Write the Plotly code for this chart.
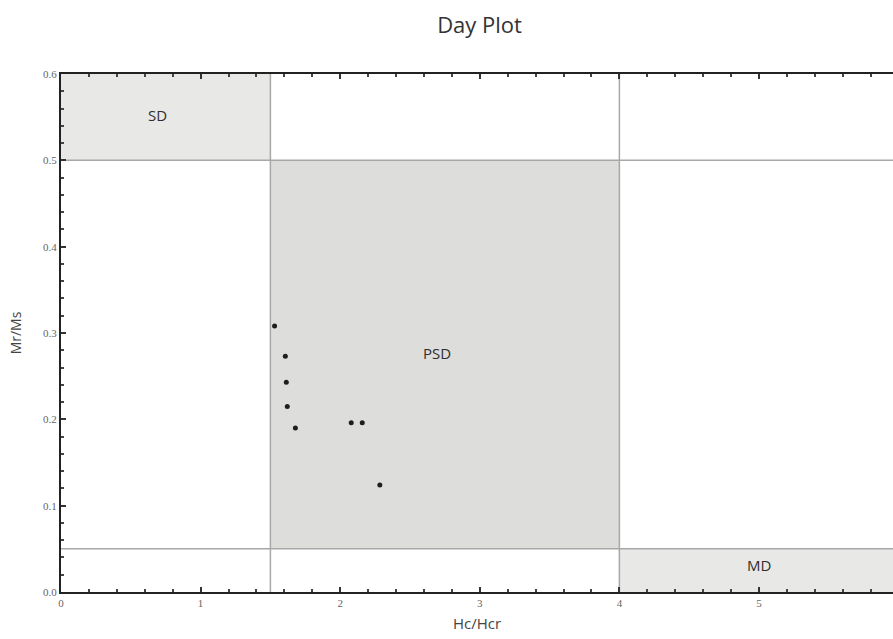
import plotly.graph_objects as go

# Hysteresis ratios for the samples
hc_hcr = [1.53, 1.607, 1.614, 1.621, 1.679, 2.079, 2.158, 2.284]
mr_ms = [0.308, 0.273, 0.243, 0.215, 0.190, 0.196, 0.196, 0.124]

# Domain-state region boundaries
sd_box = dict(x0=0, x1=1.5, y0=0.5, y1=0.6)
psd_box = dict(x0=1.5, x1=4, y0=0.05, y1=0.5)
md_box = dict(x0=4, x1=6, y0=0.0, y1=0.05)
v_lines = [1.5, 4]
h_lines = [0.5, 0.05]

region_labels = ["SD", "PSD", "MD"]
region_label_x = [0.69, 2.69, 5.0]
region_label_y = [0.552, 0.277, 0.031]

x_max = 5.96
y_max = 0.6

fig = go.Figure()

light = "#e8e8e7"
mid = "#dddddb"
line_col = "#a8a8a8"

for box, col in [(sd_box, light), (psd_box, mid), (md_box, light)]:
    fig.add_shape(type="rect", xref="x", yref="y", layer="below",
                  line=dict(width=0), fillcolor=col, **box)

for xv in v_lines:
    fig.add_shape(type="line", xref="x", yref="y", x0=xv, x1=xv, y0=0, y1=y_max,
                  line=dict(color=line_col, width=1.5), layer="below")
for yv in h_lines:
    fig.add_shape(type="line", xref="x", yref="y", x0=0, x1=x_max, y0=yv, y1=yv,
                  line=dict(color=line_col, width=1.5), layer="below")

fig.add_trace(go.Scatter(
    x=hc_hcr, y=mr_ms, mode="markers",
    marker=dict(size=5, color="#1e1e1e", symbol="circle"),
    showlegend=False, hoverinfo="x+y"))

for txt, lx, ly in zip(region_labels, region_label_x, region_label_y):
    fig.add_annotation(x=lx, y=ly, text=txt, showarrow=False,
                       font=dict(family="Open Sans", size=15, color="#2e2e2e"))

fig.update_layout(
    width=893, height=639,
    margin=dict(l=61, r=0, t=74, b=47),
    paper_bgcolor="white", plot_bgcolor="white",
    title=dict(text="Day Plot", x=0.537, xanchor="center", y=0.96, yanchor="middle",
               font=dict(family="Open Sans", size=22, color="#333333")),
    font=dict(family="Liberation Serif", size=11, color="#666666"),
)

fig.update_xaxes(
    range=[0, x_max], dtick=1, tick0=0, ticks="inside", ticklen=5, tickwidth=1.5,
    tickcolor="#333333", showline=True, linecolor="#222222", linewidth=2,
    mirror="ticks", showgrid=False, zeroline=False,
    minor=dict(dtick=0.2, ticks="inside", ticklen=3, tickcolor="#444444", showgrid=False),
    tickfont=dict(family="Liberation Serif", size=11, color="#666666"),
    title=dict(text="Hc/Hcr", standoff=10,
               font=dict(family="Open Sans", size=15, color="#444444")),
)
fig.update_yaxes(
    range=[0, y_max], dtick=0.1, tick0=0, tickformat=".1f", ticks="inside", ticklen=5,
    tickwidth=1.5, tickcolor="#333333", showline=True, linecolor="#222222", linewidth=2,
    showgrid=False, zeroline=False,
    minor=dict(dtick=0.02, ticks="inside", ticklen=3, tickcolor="#444444", showgrid=False),
    tickfont=dict(family="Liberation Serif", size=11, color="#666666"),
    title=dict(text="Mr/Ms", standoff=18,
               font=dict(family="Open Sans", size=14, color="#444444")),
)

fig.write_html("out.html")
